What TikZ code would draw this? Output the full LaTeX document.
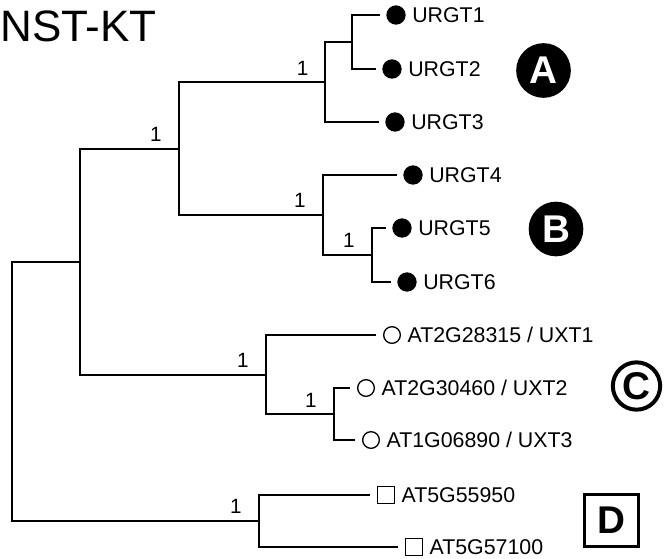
\documentclass[tikz,border=0pt]{standalone}
\usepackage{fontspec}
\setmainfont{Liberation Sans}
\usetikzlibrary{positioning}

\tikzset{
  branch/.style={line width=1.8pt},
  leafdot/.style={circle, fill=black, minimum size=14.5pt, inner sep=0pt, outer sep=5pt},
  leafring/.style={circle, draw, line width=1pt, minimum size=12.5pt, inner sep=0pt, outer sep=5.5pt},
  leafbox/.style={rectangle, draw, line width=1pt, minimum size=12.5pt, inner sep=0pt, outer sep=5.5pt},
  leaftext/.style={inner sep=0pt, outer sep=0pt, text height=11.5pt, text depth=0pt, font=\fontsize{16}{19}\selectfont},
  support/.style={inner sep=0pt, outer sep=0pt, font=\fontsize{15.5}{18}\selectfont},
  clade/.style={inner sep=0pt, text height=20pt, text depth=0pt, font=\fontsize{29}{32}\selectfont\bfseries}
}

\begin{document}
\begin{tikzpicture}[x=0.75pt, y=-0.75pt]
	\useasboundingbox (0,0) rectangle (670,558);
	\node (title) [anchor=west, inner sep=0pt, font=\fontsize{33}{38}\selectfont] at (0,26) {NST-KT};

	% inner nodes of the tree
	\coordinate (root) at (12,391.5);
	\coordinate (nI) at (80,262);
	\coordinate (nAB) at (179,149);
	\coordinate (nA) at (325,82);
	\coordinate (nA12) at (352,42);
	\coordinate (nB) at (323,215);
	\coordinate (nB56) at (372,255);
	\coordinate (nC) at (266,375);
	\coordinate (nC23) at (334,414);
	\coordinate (nD) at (259,521);

	% leaves
	\node (u1) [leafdot] at (396,15) {};
	\node (u2) [leafdot] at (392,69) {};
	\node (u3) [leafdot] at (395,122) {};
	\node (u4) [leafdot] at (413,175) {};
	\node (u5) [leafdot] at (402,228) {};
	\node (u6) [leafdot] at (407,282) {};
	\node (x1) [leafring] at (392,335) {};
	\node (x2) [leafring] at (366,388) {};
	\node (x3) [leafring] at (371,440) {};
	\node (d1) [leafbox] at (386,495) {};
	\node (d2) [leafbox] at (414,547) {};

	\node (tu1) [leaftext, right=0pt of u1] {URGT1};
	\node (tu2) [leaftext, right=0pt of u2] {URGT2};
	\node (tu3) [leaftext, right=0pt of u3] {URGT3};
	\node (tu4) [leaftext, right=0pt of u4] {URGT4};
	\node (tu5) [leaftext, right=0pt of u5] {URGT5};
	\node (tu6) [leaftext, right=0pt of u6] {URGT6};
	\node (tx1) [leaftext, right=0pt of x1] {AT2G28315 / UXT1};
	\node (tx2) [leaftext, right=0pt of x2] {AT2G30460 / UXT2};
	\node (tx3) [leaftext, right=0pt of x3] {AT1G06890 / UXT3};
	\node (td1) [leaftext, right=0pt of d1] {AT5G55950};
	\node (td2) [leaftext, right=0pt of d2] {AT5G57100};

	% branches
	\draw[branch] (root) |- (nI);
	\draw[branch] (root) |- (nD);
	\draw[branch] (nI) |- (nAB);
	\draw[branch] (nI) |- (nC);
	\draw[branch] (nAB) |- (nA);
	\draw[branch] (nAB) |- (nB);
	\draw[branch] (nA) |- (nA12);
	\draw[branch] (nA) |- (u3);
	\draw[branch] (nA12) |- (u1);
	\draw[branch] (nA12) |- (u2);
	\draw[branch] (nB) |- (u4);
	\draw[branch] (nB) |- (nB56);
	\draw[branch] (nB56) |- (u5);
	\draw[branch] (nB56) |- (u6);
	\draw[branch] (nC) |- (x1);
	\draw[branch] (nC) |- (nC23);
	\draw[branch] (nC23) |- (x2);
	\draw[branch] (nC23) |- (x3);
	\draw[branch] (nD) |- (d1);
	\draw[branch] (nD) |- (d2);

	% support values
	\node (sAB) [support, above left=6pt and 13pt of nAB] {1};
	\node (sA) [support, above left=5pt and 12.5pt of nA] {1};
	\node (sB) [support, above left=5.5pt and 13pt of nB] {1};
	\node (sB56) [support, above left=5.5pt and 13pt of nB56] {1};
	\node (sC) [support, above left=5.5pt and 13pt of nC] {1};
	\node (sC23) [support, above left=5pt and 13pt of nC23] {1};
	\node (sD) [support, above left=5.5pt and 13pt of nD] {1};

	% clade marks
	\node (cA) [clade, circle, fill=black, text=white, minimum size=41pt] at (543.5,70.5) {A};
	\node (cB) [clade, circle, fill=black, text=white, minimum size=41pt] at (556,229) {B};
	\node (cC) [clade, circle, draw, line width=3pt, minimum size=35.5pt] at (636.5,386) {C};
	\node (cD) [clade, rectangle, draw, line width=2.5pt, minimum width=40.5pt, minimum height=39pt] at (611.5,520.5) {D};
\end{tikzpicture}
\end{document}
